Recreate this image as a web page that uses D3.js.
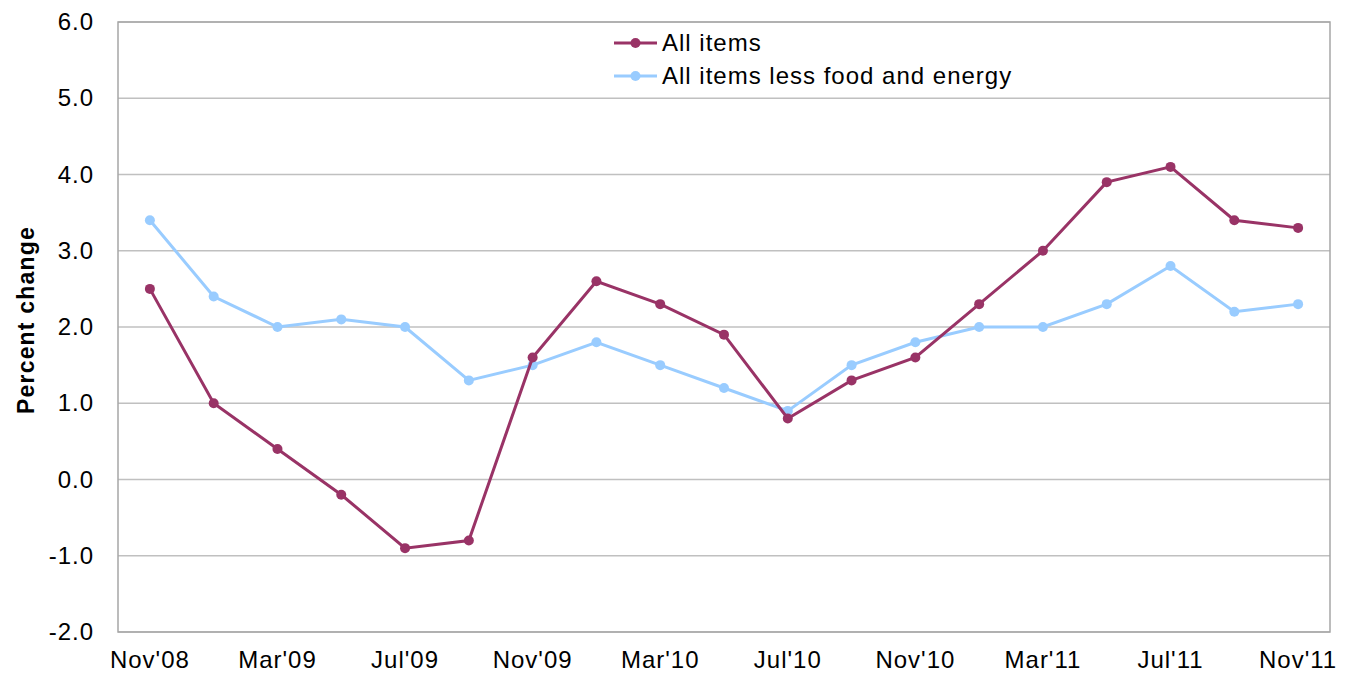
<!DOCTYPE html>
<html>
<head>
<meta charset="utf-8">
<script src="https://cdn.jsdelivr.net/npm/d3@7"></script>
<style>
  body { margin: 0; background: #fff; }
  text { font-family: "Liberation Sans", Arial, sans-serif; fill: #000; }
</style>
</head>
<body>
<div id="chart"></div>
<script>
// months, every other one gets a label
var months = ["Nov'08","Jan'09","Mar'09","May'09","Jul'09","Sep'09","Nov'09","Jan'10","Mar'10","May'10",
              "Jul'10","Sep'10","Nov'10","Jan'11","Mar'11","May'11","Jul'11","Sep'11","Nov'11"];
var allItems = [2.5, 1.0, 0.4, -0.2, -0.9, -0.8, 1.6, 2.6, 2.3, 1.9, 0.8, 1.3, 1.6, 2.3, 3.0, 3.9, 4.1, 3.4, 3.3];
var coreItems = [3.4, 2.4, 2.0, 2.1, 2.0, 1.3, 1.5, 1.8, 1.5, 1.2, 0.9, 1.5, 1.8, 2.0, 2.0, 2.3, 2.8, 2.2, 2.3];
var yTicks = [-2, -1, 0, 1, 2, 3, 4, 5, 6];
var seriesNames = ["All items", "All items less food and energy"];
var seriesColors = ["#993366", "#99ccff"];

var W = 1346, H = 682;
var margin = {top: 22, right: 16, bottom: 50, left: 118};
var w = W - margin.left - margin.right,
    h = H - margin.top - margin.bottom;

var svg = d3.select("#chart").append("svg")
  .attr("width", W).attr("height", H);
var g = svg.append("g").attr("transform", "translate(" + margin.left + "," + margin.top + ")");

var x = d3.scaleBand().domain(months).range([0, w]);
var y = d3.scaleLinear().domain([-2, 6]).range([h, 0]);
var cx = function(i) { return x(months[i]) + x.bandwidth() / 2; };

// gridlines
g.selectAll(".grid").data(yTicks).enter().append("line")
  .attr("x1", 0).attr("x2", w)
  .attr("y1", function(d) { return y(d); }).attr("y2", function(d) { return y(d); })
  .attr("stroke", "#c0c0c0").attr("stroke-width", 1.3);

// frame
g.append("rect").attr("width", w).attr("height", h)
  .attr("fill", "none").attr("stroke", "#a6a6a6").attr("stroke-width", 1.5);

// y axis labels (plain hyphen for negatives, like the original)
var yAxis = d3.axisLeft(y).tickValues(yTicks)
  .tickFormat(function(d) { return d.toFixed(1); }).tickSize(0).tickPadding(24);
g.append("g").call(yAxis).call(function(s) {
  s.select(".domain").remove();
  s.selectAll("text").style("font-size", "24px").style("letter-spacing", "1px").attr("fill", "#000");
});

// x axis labels
var xAxis = d3.axisBottom(x).tickValues(months.filter(function(d, i) { return i % 2 === 0; }))
  .tickSize(0).tickPadding(19);
g.append("g").attr("transform", "translate(0," + h + ")").call(xAxis).call(function(s) {
  s.select(".domain").remove();
  s.selectAll("text").style("font-size", "24px").style("letter-spacing", "1px").attr("fill", "#000");
});

// y title
svg.append("text")
  .attr("transform", "translate(34," + (margin.top + 298) + ") rotate(-90)")
  .attr("text-anchor", "middle")
  .style("font-size", "23px").style("font-weight", "bold").style("letter-spacing", "1.2px")
  .text("Percent change");

var line = d3.line().x(function(d, i) { return cx(i); }).y(function(d) { return y(d); });

// draw core first so all items sits on top
[[coreItems, 1], [allItems, 0]].forEach(function(p) {
  var data = p[0], col = seriesColors[p[1]];
  g.append("path").datum(data).attr("d", line)
    .attr("fill", "none").attr("stroke", col).attr("stroke-width", 3);
  g.selectAll(null).data(data).enter().append("circle")
    .attr("cx", function(d, i) { return cx(i); })
    .attr("cy", function(d) { return y(d); })
    .attr("r", 5).attr("fill", col);
});

// legend
var leg = svg.append("g").attr("transform", "translate(614,43)");
seriesNames.forEach(function(name, i) {
  var row = leg.append("g").attr("transform", "translate(0," + (i * 33) + ")");
  row.append("line").attr("x1", 0).attr("x2", 43).attr("stroke", seriesColors[i]).attr("stroke-width", 3);
  row.append("circle").attr("cx", 21.5).attr("r", 5).attr("fill", seriesColors[i]);
  row.append("text").attr("x", 48).attr("dy", "0.35em")
    .style("font-size", "24px").style("letter-spacing", "1px").text(name);
});
</script>
</body>
</html>
